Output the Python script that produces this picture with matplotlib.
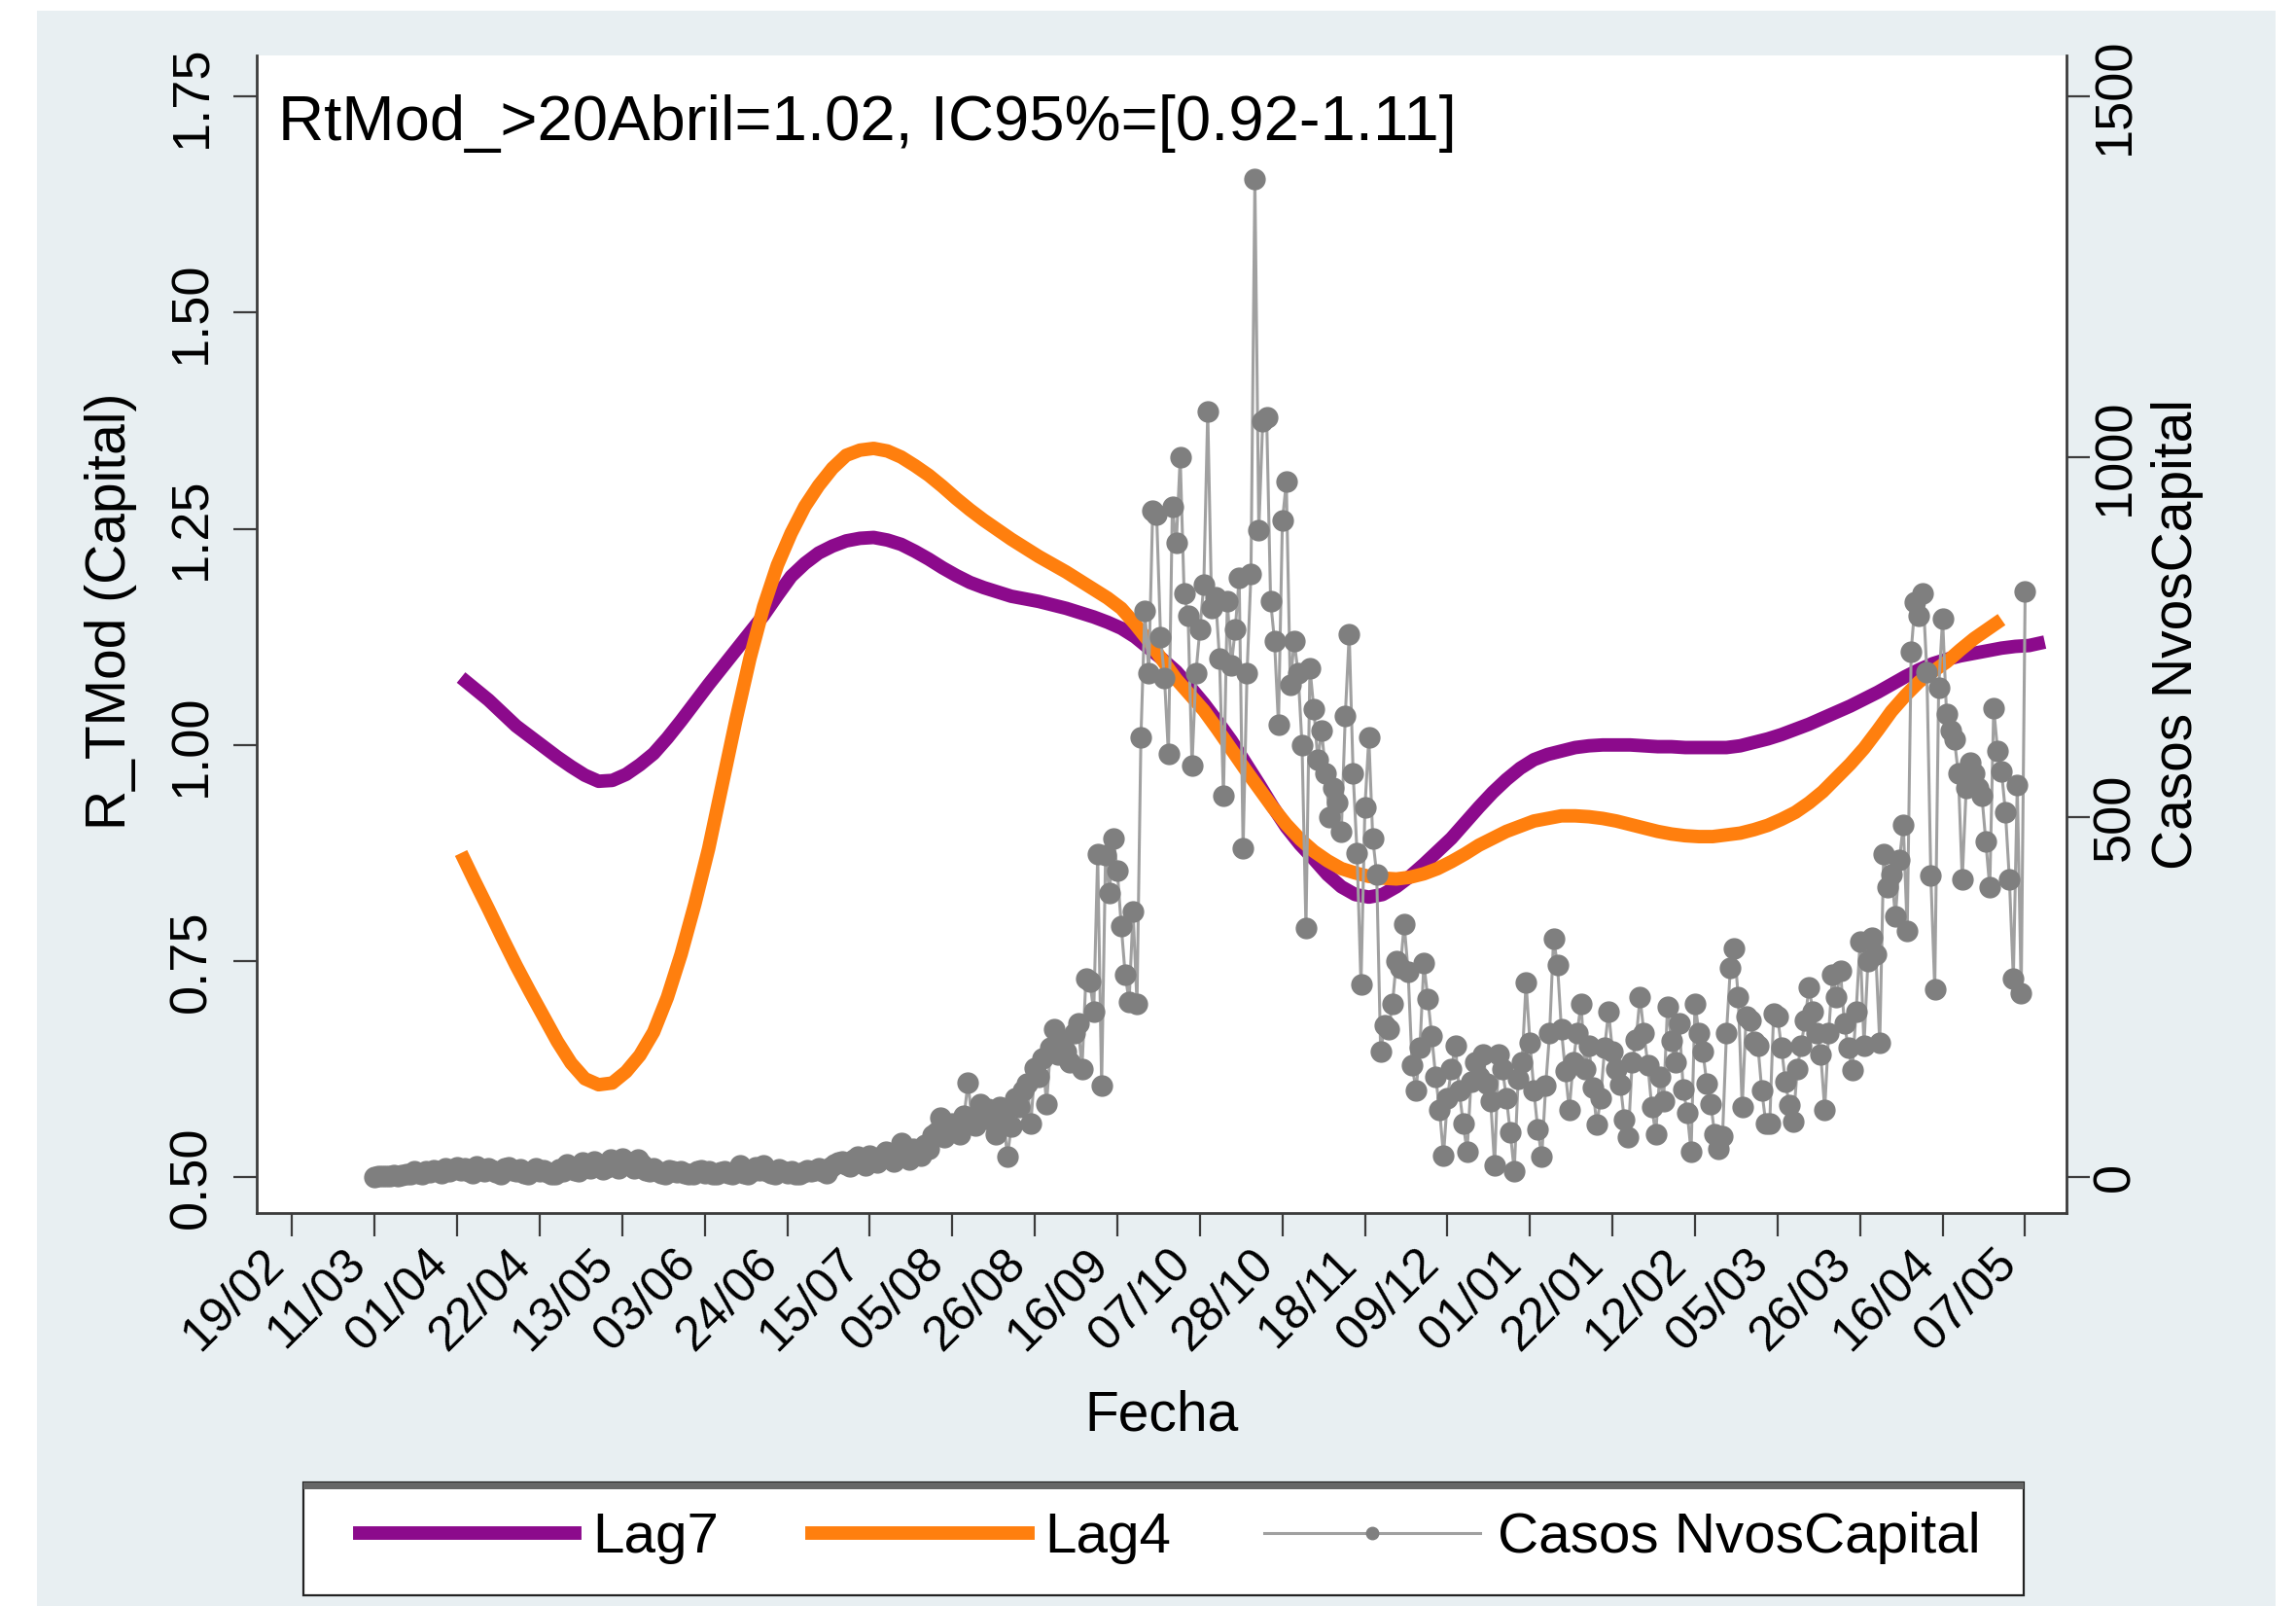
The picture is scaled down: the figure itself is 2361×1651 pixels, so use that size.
import matplotlib
matplotlib.use("Agg")
import matplotlib.pyplot as plt
import pandas as pd
from matplotlib.patches import Rectangle
from matplotlib.lines import Line2D

plt.rcParams['font.family'] = ['Liberation Sans', 'DejaVu Sans']

# daily new cases in the capital, one value per day from 11/03/2020
case_start = "2020-03-11"
casos = [
    0, 1, 1, 2, 1, 3, 2,
    3, 5, 4, 8, 6, 5, 9,
    7, 10, 8, 6, 12, 9, 11,
    14, 10, 12, 8, 6, 15, 11,
    9, 13, 10, 7, 5, 12, 14,
    10, 8, 11, 6, 5, 9, 12,
    8, 10, 7, 5, 4, 11, 9,
    18, 14, 10, 9, 20, 16, 12,
    22, 15, 11, 14, 25, 19, 13,
    26, 21, 17, 12, 24, 18, 10,
    8, 12, 9, 6, 5, 10, 8,
    7, 9, 6, 4, 5, 8, 10,
    6, 8, 5, 4, 7, 9, 6,
    5, 7, 16, 6, 4, 8, 14,
    10, 16, 8, 6, 5, 11, 9,
    6, 9, 5, 4, 7, 10, 8,
    10, 12, 8, 6, 14, 18, 20,
    22, 18, 15, 25, 28, 20, 17,
    30, 24, 20, 28, 35, 26, 22,
    32, 48, 28, 25, 40, 34, 30,
    45, 40, 58, 62, 83, 55, 70,
    75, 66, 60, 85, 131, 80, 72,
    102, 90, 95, 79, 60, 98, 88,
    28, 70, 110, 97, 120, 130, 75,
    151, 140, 165, 102, 180, 205, 170,
    190, 175, 160, 200, 214, 150, 276,
    272, 230, 448, 127, 447, 395, 470,
    425, 349, 281, 244, 369, 241, 611,
    786, 700, 925, 920, 750, 693, 587,
    930, 880, 999, 810, 780, 572, 700,
    760, 822, 1063, 790, 805, 720, 530,
    800, 710, 760, 832, 456, 700, 837,
    1386, 898, 1050, 1055, 800, 744, 628,
    911, 965, 684, 744, 700, 600, 346,
    707, 650, 580, 620, 560, 500, 540,
    520, 480, 640, 754, 560, 450, 267,
    513, 610, 470, 420, 174, 211, 205,
    240, 300, 290, 351, 285, 156, 120,
    180, 297, 248, 196, 140, 93, 30,
    110, 150, 183, 120, 75, 35, 133,
    160, 140, 171, 130, 106, 16, 171,
    150, 110, 62, 9, 137, 160, 270,
    187, 120, 66, 28, 127, 200, 331,
    295, 205, 147, 93, 160, 200, 241,
    150, 183, 124, 73, 110, 180, 230,
    174, 150, 129, 80, 55, 160, 191,
    250, 200, 156, 97, 60, 140, 106,
    237, 190, 160, 214, 122, 90, 36,
    241, 200, 174, 130, 102, 60, 39,
    57, 200, 291, 318, 250, 97, 223,
    218, 188, 183, 120, 75, 74, 227,
    223, 180, 132, 100, 77, 150, 183,
    218, 264, 230, 200, 170, 94, 200,
    281, 250, 287, 213, 180, 149, 230,
    327, 183, 300, 332, 310, 186, 448,
    402, 420, 362, 440, 489, 342, 730,
    798, 780, 810, 701, 419, 261, 680,
    775, 643, 620, 608, 560, 413, 540,
    575, 560, 540, 529, 466, 402, 651,
    592, 563, 506, 413, 276, 545, 256,
    813,
]

# smoothed R curves, read every half week from 02/04/2020
lag_start = "2020-04-02"
lag7 = [1.078, 1.065, 1.052, 1.037, 1.022, 1.010, 0.998, 0.986, 0.975, 0.965,
        0.958, 0.959, 0.966, 0.977, 0.990, 1.008, 1.028, 1.049, 1.070, 1.090,
        1.110, 1.130, 1.150, 1.173, 1.195, 1.210, 1.222, 1.230, 1.236, 1.239,
        1.240, 1.237, 1.232, 1.224, 1.215, 1.205, 1.196, 1.188, 1.182, 1.177,
        1.172, 1.169, 1.166, 1.162, 1.158, 1.153, 1.148, 1.142, 1.135, 1.125,
        1.112, 1.099, 1.085, 1.067, 1.048, 1.027, 1.005, 0.980, 0.955, 0.929,
        0.905, 0.885, 0.868, 0.850, 0.836, 0.827, 0.824, 0.827, 0.836, 0.848,
        0.862, 0.877, 0.892, 0.910, 0.928, 0.945, 0.960, 0.973, 0.983, 0.989,
        0.993, 0.997, 0.999, 1.000, 1.000, 1.000, 0.999, 0.998, 0.998, 0.997,
        0.997, 0.997, 0.997, 0.999, 1.003, 1.007, 1.012, 1.018, 1.024, 1.031,
        1.038, 1.045, 1.053, 1.061, 1.070, 1.079, 1.087, 1.094, 1.099, 1.103,
        1.106, 1.109, 1.112, 1.114, 1.115]
lag7_end = ("2021-05-10", 1.119)
lag4 = [0.875, 0.842, 0.810, 0.777, 0.745, 0.715, 0.686, 0.657, 0.632, 0.614,
        0.607, 0.609, 0.622, 0.641, 0.668, 0.708, 0.758, 0.816, 0.880, 0.955,
        1.030, 1.100, 1.160, 1.208, 1.245, 1.276, 1.300, 1.320, 1.335, 1.341,
        1.343, 1.340, 1.333, 1.323, 1.312, 1.299, 1.285, 1.272, 1.260, 1.249,
        1.238, 1.228, 1.218, 1.209, 1.200, 1.190, 1.180, 1.170, 1.158, 1.140,
        1.120, 1.098, 1.076, 1.058, 1.040, 1.018, 0.995, 0.972, 0.950, 0.928,
        0.908, 0.891, 0.877, 0.866, 0.857, 0.852, 0.848, 0.846, 0.845, 0.847,
        0.851, 0.857, 0.865, 0.874, 0.884, 0.892, 0.900, 0.906, 0.912, 0.915,
        0.918, 0.918, 0.917, 0.915, 0.912, 0.908, 0.904, 0.900, 0.897, 0.895,
        0.894, 0.894, 0.896, 0.898, 0.902, 0.907, 0.914, 0.922, 0.933, 0.946,
        0.962, 0.978, 0.996, 1.017, 1.039, 1.057, 1.073, 1.085, 1.096, 1.110,
        1.123, 1.134, 1.145]

r_ticks = [0.50, 0.75, 1.00, 1.25, 1.50, 1.75]
case_ticks = [0, 500, 1000, 1500]
xtick_first = "2020-02-19"
xtick_labels = ['19/02', '11/03', '01/04', '22/04', '13/05', '03/06', '24/06', '15/07',
                '05/08', '26/08', '16/09', '07/10', '28/10', '18/11', '09/12', '01/01',
                '22/01', '12/02', '05/03', '26/03', '16/04', '07/05']
note = "RtMod_>20Abril=1.02, IC95%=[0.92-1.11]"

purple = '#8c0a8c'
orange = '#ff7f0e'
gray_mk = '#7f7f7f'
gray_ln = '#a0a0a0'
axcol = '#3c3c3c'

case_dates = pd.date_range(case_start, periods=len(casos), freq='D')
lag7_dates = list(pd.date_range(lag_start, periods=len(lag7), freq='84h')) + [pd.Timestamp(lag7_end[0])]
lag7_vals = lag7 + [lag7_end[1]]
lag4_dates = pd.date_range(lag_start, periods=len(lag4), freq='84h')

fig = plt.figure(figsize=(23.61, 16.51), dpi=100, facecolor='white')
fig.patches.append(Rectangle((0.0161, 0.0), 0.975, 0.9933, transform=fig.transFigure,
                             facecolor='#e8eff2', edgecolor='none', zorder=-10))

ax = fig.add_axes([0.1118, 0.2449, 0.7882, 0.7203])
ax.set_facecolor('white')
ax.plot(lag7_dates, lag7_vals, color=purple, lw=10, solid_capstyle='butt', solid_joinstyle='round')
ax.plot(lag4_dates, lag4, color=orange, lw=10, solid_capstyle='butt', solid_joinstyle='round')

ylo, yhi = 0.459, 1.797
ax.set_ylim(ylo, yhi)
ax.set_xlim(pd.Timestamp('2020-02-10'), pd.Timestamp('2021-05-15 12:00'))

ax2 = ax.twinx()
ax2.plot(case_dates, casos, color=gray_ln, lw=2.2, marker='o', ms=15,
         mfc=gray_mk, mec=gray_mk)
ax2.set_ylim((ylo - 0.5) * 1200, (yhi - 0.5) * 1200)

# evenly spaced ticks every 21 days, labels as printed on the original
xt = pd.date_range(xtick_first, periods=len(xtick_labels), freq='21D')
ax.set_xticks(xt)
ax.set_xticklabels(xtick_labels, rotation=45, ha='right', va='top')
ax.set_yticks(r_ticks)
ax.set_yticklabels(['%.2f' % v for v in r_ticks], rotation=90, va='center', ha='right')
ax2.set_yticks(case_ticks)
ax2.set_yticklabels([str(v) for v in case_ticks], rotation=90, va='center', ha='left')

for a in (ax, ax2):
    for s in a.spines.values():
        s.set_color(axcol)
        s.set_linewidth(2.0)
    a.spines['top'].set_visible(False)
ax.spines['right'].set_visible(False)
ax2.spines['left'].set_visible(False)
ax2.spines['bottom'].set_visible(False)

ax.tick_params(axis='x', length=17, width=1.6, color=axcol, labelsize=36, pad=4)
ax.tick_params(axis='y', length=17, width=1.6, color=axcol, labelsize=39, pad=13)
ax2.tick_params(axis='y', length=17, width=1.6, color=axcol, labelsize=39, pad=1)

ax.set_xlabel('Fecha', fontsize=41)
ax.xaxis.set_label_coords(0.5, -0.153)
ax.set_ylabel('R_TMod (Capital)', fontsize=41)
ax.yaxis.set_label_coords(-0.066, 0.52)
ax2.set_ylabel('Casos NvosCapital', fontsize=41)
ax2.yaxis.set_label_coords(1.047, 0.5)

ax.text(0.012, 0.9275, note, transform=ax.transAxes, fontsize=47, ha='left', va='baseline')

# legend box
fig.patches.append(Rectangle((0.1321, 0.0067), 0.7493, 0.0703, transform=fig.transFigure,
                             facecolor='white', edgecolor='#222222', lw=1.6, zorder=1))
fig.patches.append(Rectangle((0.1321, 0.0728), 0.7493, 0.0042, transform=fig.transFigure,
                             facecolor='#666666', edgecolor='none', zorder=2))
handles = [Line2D([], [], color=purple, lw=10),
           Line2D([], [], color=orange, lw=10),
           Line2D([], [], color=gray_ln, lw=2.2, marker='o', ms=9, mfc=gray_mk, mec=gray_mk)]
leg = fig.legend(handles, ['Lag7', 'Lag4', 'Casos NvosCapital'], loc='center',
                 bbox_to_anchor=(0.5095, 0.0424), ncol=3, frameon=False, fontsize=42,
                 handlelength=3.8, handletextpad=0.3, columnspacing=1.65)
leg.set_zorder(5)

fig.savefig('out.png', dpi=100, facecolor=fig.get_facecolor())
